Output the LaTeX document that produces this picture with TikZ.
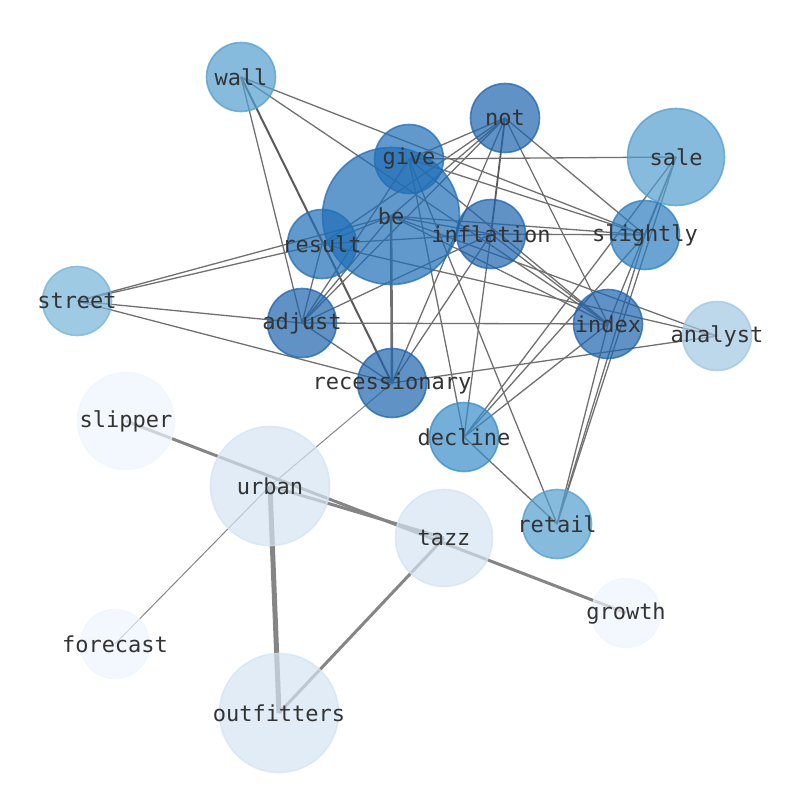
\documentclass[tikz,border=0pt]{standalone}
\usepackage{fontspec}
\setmonofont{DejaVu Sans Mono}
\usepackage{tikz}
\definecolor{clrtier_a}{HTML}{1D64AE}
\definecolor{clrtier_b}{HTML}{1F6EB6}
\definecolor{clrtier_c}{HTML}{2C7EC0}
\definecolor{clrtier_d}{HTML}{378DC8}
\definecolor{clrtier_e}{HTML}{529ECE}
\definecolor{clrtier_f}{HTML}{75B3D9}
\definecolor{clrtier_g}{HTML}{9FC7E1}
\definecolor{clrtier_h}{HTML}{D4E4F2}
\definecolor{clrtier_i}{HTML}{EEF5FD}
\definecolor{clredge}{HTML}{707070}
\definecolor{clredge_soft}{HTML}{858585}
\definecolor{clrtext}{HTML}{333333}

\begin{document}
\begin{tikzpicture}[
    x=1pt, y=-1pt,
    word/.style={circle, inner sep=0, minimum size=69pt, line width=1.6pt, fill opacity=0.7, draw opacity=0.75},
    mid/.style={word, minimum size=97pt},
    big/.style={word, minimum size=119pt},
    huge/.style={word, minimum size=137pt},
    lbl/.style={font=\ttfamily\fontsize{22}{25}\selectfont, text=clrtext, inner sep=0},
    link/.style={draw=clredge, line width=1.3pt},
    heavylink/.style={draw=clredge_soft, line width=3pt},
]
\useasboundingbox (0,0) rectangle (794,790);
\coordinate (wall) at (241,77);
\coordinate (not) at (505,118);
\coordinate (give) at (409,159);
\coordinate (sale) at (676,157);
\coordinate (be) at (391,216);
\coordinate (result) at (322,244);
\coordinate (inflation) at (491,234);
\coordinate (slightly) at (645,235);
\coordinate (street) at (77,301);
\coordinate (adjust) at (302,323);
\coordinate (index) at (608,324);
\coordinate (analyst) at (717,336);
\coordinate (recessionary) at (392,383);
\coordinate (slipper) at (126,421);
\coordinate (decline) at (464,437);
\coordinate (urban) at (270,486);
\coordinate (tazz) at (444,538);
\coordinate (retail) at (557,524);
\coordinate (growth) at (626,613);
\coordinate (forecast) at (115,644);
\coordinate (outfitters) at (279,713);
\draw[link] (wall) -- (adjust);
\draw[link, line width=2pt, draw=clredge!80!black] (wall) -- (recessionary);
\draw[link] (wall) -- (slightly);
\draw[link] (wall) -- (index);
\draw[link] (not) -- (give);
\draw[link] (not) -- (be);
\draw[link] (not) -- (result);
\draw[link] (not) -- (adjust);
\draw[link] (not) -- (recessionary);
\draw[link, line width=1.8pt, draw=clredge!80!black] (not) -- (inflation);
\draw[link] (not) -- (index);
\draw[link] (not) -- (slightly);
\draw[link] (give) -- (sale);
\draw[link] (give) -- (slightly);
\draw[link] (give) -- (index);
\draw[link] (give) -- (retail);
\draw[link] (give) -- (decline);
\draw[link] (give) -- (adjust);
\draw[link] (be) -- (result);
\draw[link] (be) -- (inflation);
\draw[link] (be) -- (adjust);
\draw[link, line width=2.6pt] (be) -- (recessionary);
\draw[link] (be) -- (street);
\draw[link] (be) -- (index);
\draw[link] (be) -- (analyst);
\draw[link] (be) -- (slightly);
\draw[link] (result) -- (street);
\draw[link] (result) -- (adjust);
\draw[link] (result) -- (inflation);
\draw[link] (result) -- (analyst);
\draw[link] (street) -- (adjust);
\draw[link] (street) -- (recessionary);
\draw[link] (adjust) -- (index);
\draw[link] (adjust) -- (recessionary);
\draw[link] (adjust) -- (inflation);
\draw[link] (inflation) -- (slightly);
\draw[link] (inflation) -- (index);
\draw[link] (inflation) -- (recessionary);
\draw[link] (inflation) -- (decline);
\draw[link] (sale) -- (slightly);
\draw[link] (sale) -- (decline);
\draw[link] (sale) -- (index);
\draw[link] (sale) -- (retail);
\draw[link] (slightly) -- (decline);
\draw[link] (slightly) -- (retail);
\draw[link] (index) -- (decline);
\draw[link] (index) -- (retail);
\draw[link] (decline) -- (retail);
\draw[link] (recessionary) -- (analyst);
\draw[link, line width=1pt, draw=clredge_soft] (recessionary) -- (urban);
\draw[link, line width=1pt, draw=clredge_soft] (urban) -- (forecast);
\draw[heavylink, line width=5pt] (urban) -- (outfitters);
\draw[heavylink] (urban) -- (tazz);
\draw[heavylink] (slipper) -- (growth);
\draw[heavylink] (tazz) -- (outfitters);
\node[word, fill=clrtier_e, draw=clrtier_e] (n_wall) at (wall) {};
\node[word, fill=clrtier_a, draw=clrtier_a] (n_not) at (not) {};
\node[huge, fill=clrtier_b, draw=clrtier_b] (n_be) at (be) {};
\node[word, fill=clrtier_b, draw=clrtier_b] (n_give) at (give) {};
\node[mid, fill=clrtier_e, draw=clrtier_e] (n_sale) at (sale) {};
\node[word, fill=clrtier_b, draw=clrtier_b] (n_result) at (result) {};
\node[word, fill=clrtier_a, draw=clrtier_a] (n_inflation) at (inflation) {};
\node[word, fill=clrtier_c, draw=clrtier_c] (n_slightly) at (slightly) {};
\node[word, fill=clrtier_f, draw=clrtier_f] (n_street) at (street) {};
\node[word, fill=clrtier_a, draw=clrtier_a] (n_adjust) at (adjust) {};
\node[word, fill=clrtier_a, draw=clrtier_a] (n_index) at (index) {};
\node[word, fill=clrtier_g, draw=clrtier_g] (n_analyst) at (analyst) {};
\node[word, fill=clrtier_a, draw=clrtier_a] (n_recessionary) at (recessionary) {};
\node[mid, fill=clrtier_i, draw=clrtier_i] (n_slipper) at (slipper) {};
\node[word, fill=clrtier_d, draw=clrtier_d] (n_decline) at (decline) {};
\node[big, fill=clrtier_h, draw=clrtier_h] (n_urban) at (urban) {};
\node[mid, fill=clrtier_h, draw=clrtier_h] (n_tazz) at (tazz) {};
\node[word, fill=clrtier_e, draw=clrtier_e] (n_retail) at (retail) {};
\node[word, fill=clrtier_i, draw=clrtier_i] (n_growth) at (growth) {};
\node[word, fill=clrtier_i, draw=clrtier_i] (n_forecast) at (forecast) {};
\node[big, fill=clrtier_h, draw=clrtier_h] (n_outfitters) at (outfitters) {};
\node[lbl] (t_wall) at (wall) {wall};
\node[lbl] (t_not) at (not) {not};
\node[lbl] (t_give) at (give) {give};
\node[lbl] (t_sale) at (sale) {sale};
\node[lbl] (t_be) at (be) {be};
\node[lbl] (t_result) at (result) {result};
\node[lbl] (t_inflation) at (inflation) {inflation};
\node[lbl] (t_slightly) at (slightly) {slightly};
\node[lbl] (t_street) at (street) {street};
\node[lbl] (t_adjust) at (adjust) {adjust};
\node[lbl] (t_index) at (index) {index};
\node[lbl] (t_analyst) at (analyst) {analyst};
\node[lbl] (t_recessionary) at (recessionary) {recessionary};
\node[lbl] (t_slipper) at (slipper) {slipper};
\node[lbl] (t_decline) at (decline) {decline};
\node[lbl] (t_urban) at (urban) {urban};
\node[lbl] (t_tazz) at (tazz) {tazz};
\node[lbl] (t_retail) at (retail) {retail};
\node[lbl] (t_growth) at (growth) {growth};
\node[lbl] (t_forecast) at (forecast) {forecast};
\node[lbl] (t_outfitters) at (outfitters) {outfitters};
\end{tikzpicture}
\end{document}
